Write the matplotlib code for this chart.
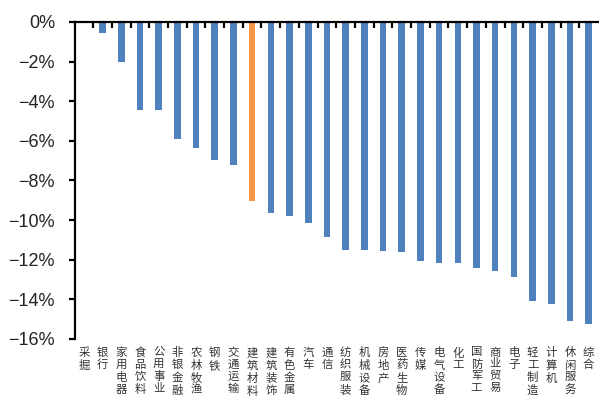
import numpy as np
import matplotlib.pyplot as plt
from matplotlib.ticker import FuncFormatter, FixedLocator

# industry returns, %
industries = ['采掘', '银行', '家用电器', '食品饮料', '公用事业', '非银金融', '农林牧渔',
              '钢铁', '交通运输', '建筑材料', '建筑装饰', '有色金属', '汽车', '通信',
              '纺织服装', '机械设备', '房地产', '医药生物', '传媒', '电气设备', '化工',
              '国防军工', '商业贸易', '电子', '轻工制造', '计算机', '休闲服务', '综合']
returns = [0.0, -0.54, -2.04, -4.44, -4.44, -5.91, -6.36, -6.95, -7.24, -9.02,
           -9.66, -9.77, -10.17, -10.87, -11.52, -11.52, -11.57, -11.62, -12.07,
           -12.14, -12.14, -12.44, -12.59, -12.88, -14.09, -14.21, -15.08, -15.22]
highlight = '建筑材料'

blue = '#4f81bd'
orange = '#f79646'

fig = plt.figure(figsize=(5.99, 4.05), dpi=100)
ax = fig.add_axes([0.1244, 0.163, 0.874, 0.7827])

x = np.arange(len(industries))
colors = [orange if name == highlight else blue for name in industries]
ax.bar(x, returns, width=0.35, color=colors, zorder=2)

ax.set_xlim(-0.5, len(industries) - 0.5)
ax.set_ylim(-16, 0)
ax.set_yticks(np.arange(-16, 1, 2))
ax.yaxis.set_major_formatter(FuncFormatter(
    lambda v, _: '0%' if v == 0 else '\u2212%d%%' % abs(v)))

for side in ('right', 'bottom'):
    ax.spines[side].set_visible(False)
for side in ('left', 'top'):
    ax.spines[side].set_linewidth(1.6)
    ax.spines[side].set_color('black')

# category labels stacked vertically below the plot
ax.set_xticks(x)
ax.set_xticklabels(['\n'.join(name) for name in industries],
                   family=['Noto Sans CJK SC', 'DejaVu Sans'],
                   fontsize=8.2, color='#333333', linespacing=1.22)
ax.tick_params(axis='x', which='major', length=0, pad=6)

# separators between categories on the zero line
ax.xaxis.set_minor_locator(FixedLocator(np.arange(0.5, len(industries) - 0.5, 1)))
ax.tick_params(axis='x', which='minor', top=True, bottom=False,
               direction='in', length=4, width=1.6, color='black')

ax.tick_params(axis='y', direction='out', length=4, width=1.6, pad=10,
               labelsize=13, labelcolor='#222222')
for lbl in ax.get_yticklabels():
    lbl.set_family(['Liberation Sans', 'DejaVu Sans'])

fig.savefig('out.png', dpi=100)
